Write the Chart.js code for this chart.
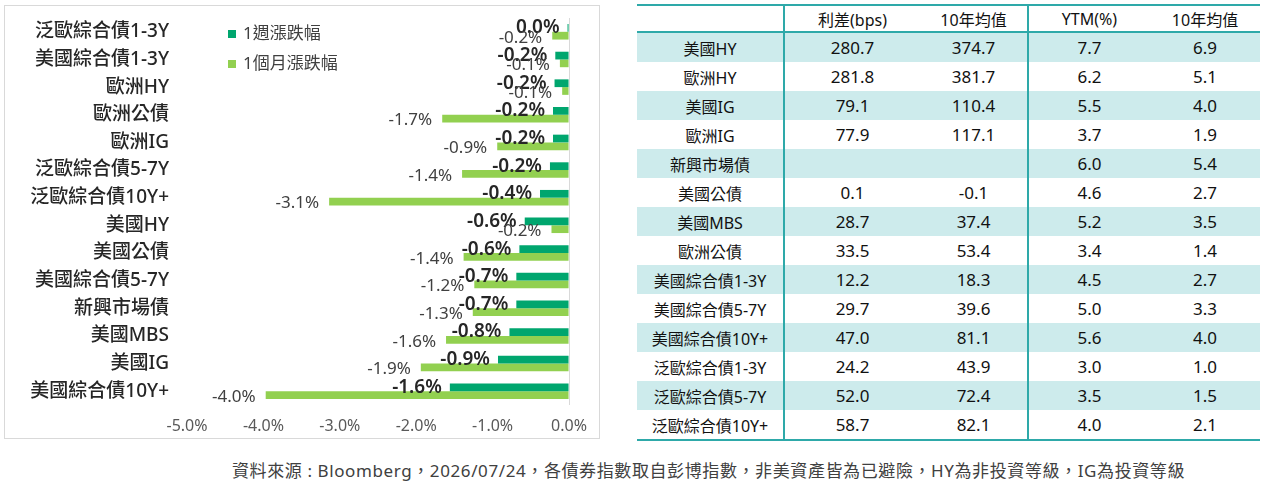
<!DOCTYPE html>
<html>
<head>
<meta charset="utf-8">
<script src="https://cdn.jsdelivr.net/npm/chart.js@4.4.1/dist/chart.umd.min.js"></script>
<style>
  body { margin: 0; width: 1264px; height: 484px; background: #fff; position: relative; overflow: hidden;
         font-family: "Noto Sans", "Noto Sans CJK TC", sans-serif; color: #111; }
  #box { position: absolute; left: 4px; top: 5px; width: 594px; height: 432px; border: 1px solid #d9d9d9; }
  #tbl { position: absolute; left: 637px; top: 4px; width: 623px; border-collapse: collapse; table-layout: fixed; }
  #tbl th, #tbl td { padding: 0; text-align: center; white-space: nowrap; }
  #tbl th { height: 25px; font-size: 16px; font-weight: normal; border-top: 2px solid #2ea9a9; border-bottom: 2px solid #2ea9a9; }
  #tbl td { height: 29px; font-size: 17px; }
  #tbl td.nm { font-size: 16px; }
  #tbl tr.alt td { background: #cdebec; }
  #tbl tr:last-child td { border-bottom: 2px solid #2ea9a9; }
  #tbl .vl { border-right: 2px solid #2ea9a9; }
  #note { position: absolute; left: 232px; top: 457px; font-size: 17px; letter-spacing: 0.6px; color: #404040; white-space: nowrap; }
</style>
</head>
<body>
<div id="box"><canvas id="bondChart"></canvas></div>
<table id="tbl">
  <colgroup><col style="width:147px"><col style="width:136px"><col style="width:108px"><col style="width:122px"><col style="width:110px"></colgroup>
  <thead><tr><th class="vl"></th><th>利差(bps)</th><th class="vl">10年均值</th><th>YTM(%)</th><th>10年均值</th></tr></thead>
  <tbody id="tblBody"></tbody>
</table>
<div id="note">資料來源 : Bloomberg，2026/07/24，各債券指數取自彭博指數，非美資產皆為已避險，HY為非投資等級，IG為投資等級</div>

<script>
// ---------- chart data ----------
const categories = ["泛歐綜合債1-3Y", "美國綜合債1-3Y", "歐洲HY", "歐洲公債", "歐洲IG", "泛歐綜合債5-7Y", "泛歐綜合債10Y+",
  "美國HY", "美國公債", "美國綜合債5-7Y", "新興市場債", "美國MBS", "美國IG", "美國綜合債10Y+"];
const weekChange = [-0.02, -0.18, -0.19, -0.21, -0.21, -0.25, -0.38, -0.58, -0.65, -0.69, -0.69, -0.78, -0.93, -1.56];
const monthChange = [-0.22, -0.12, -0.09, -1.66, -0.94, -1.40, -3.14, -0.23, -1.38, -1.24, -1.26, -1.61, -1.94, -3.97];
const xTicks = [-5, -4, -3, -2, -1, 0];

// ---------- table data ----------
const tableNames = ["美國HY", "歐洲HY", "美國IG", "歐洲IG", "新興市場債", "美國公債", "美國MBS", "歐洲公債",
  "美國綜合債1-3Y", "美國綜合債5-7Y", "美國綜合債10Y+", "泛歐綜合債1-3Y", "泛歐綜合債5-7Y", "泛歐綜合債10Y+"];
const spread = [280.7, 281.8, 79.1, 77.9, null, 0.1, 28.7, 33.5, 12.2, 29.7, 47.0, 24.2, 52.0, 58.7];
const spreadAvg = [374.7, 381.7, 110.4, 117.1, null, -0.1, 37.4, 53.4, 18.3, 39.6, 81.1, 43.9, 72.4, 82.1];
const ytm = [7.7, 6.2, 5.5, 3.7, 6.0, 4.6, 5.2, 3.4, 4.5, 5.0, 5.6, 3.0, 3.5, 4.0];
const ytmAvg = [6.9, 5.1, 4.0, 1.9, 5.4, 2.7, 3.5, 1.4, 2.7, 3.3, 4.0, 1.0, 1.5, 2.1];

const FONT = '"Noto Sans", "Noto Sans CJK TC", sans-serif';
const pct = (v) => (Math.round(v * 10) / 10).toFixed(1) + "%";
const num = (v) => (v === null ? "" : v.toFixed(1));

// build table rows
document.getElementById("tblBody").innerHTML = tableNames.map((name, i) => `
  <tr class="${i % 2 === 0 ? "alt" : ""}">
    <td class="nm vl">${name}</td><td>${num(spread[i])}</td><td class="vl">${num(spreadAvg[i])}</td>
    <td>${num(ytm[i])}</td><td>${num(ytmAvg[i])}</td>
  </tr>`).join("");

// value labels at the end of each bar
const barLabels = {
  id: "barLabels",
  afterDatasetsDraw(chart) {
    const ctx = chart.ctx;
    ctx.save();
    ctx.textAlign = "right";
    ctx.textBaseline = "middle";
    chart.data.datasets.forEach((ds, di) => {
      const meta = chart.getDatasetMeta(di);
      ctx.font = di === 0 ? `600 19px ${FONT}` : `17px ${FONT}`;
      ctx.fillStyle = di === 0 ? "#262626" : "#404040";
      meta.data.forEach((bar, i) => {
        ctx.fillText(pct(ds.data[i]), bar.x - (di === 0 ? 8 : 10), bar.y + (di === 0 ? 0 : 2));
      });
    });
    ctx.restore();
  },
};

// legend stacked inside the plot
const innerLegend = {
  id: "innerLegend",
  afterDraw(chart) {
    const ctx = chart.ctx;
    ctx.save();
    ctx.font = `17px ${FONT}`;
    ctx.textBaseline = "middle";
    chart.data.datasets.forEach((ds, di) => {
      const y = 28 + di * 30;
      ctx.fillStyle = ds.backgroundColor;
      ctx.fillRect(223, y - 4, 8, 8);
      ctx.fillStyle = "#404040";
      ctx.fillText(ds.label, 238, y);
    });
    ctx.restore();
  },
};

new Chart(document.getElementById("bondChart"), {
  type: "bar",
  data: {
    labels: categories,
    datasets: [
      { label: "1週漲跌幅", data: weekChange, backgroundColor: "#00a66e" },
      { label: "1個月漲跌幅", data: monthChange, backgroundColor: "#92d050" },
    ],
  },
  options: {
    indexAxis: "y",
    responsive: true,
    maintainAspectRatio: false,
    animation: false,
    categoryPercentage: 0.56,
    barPercentage: 1,
    layout: { padding: { top: 12, right: 29, left: 0, bottom: 0 } },
    plugins: { legend: { display: false }, tooltip: { enabled: false } },
    scales: {
      x: {
        min: -5,
        max: 0,
        afterBuildTicks: (scale) => { scale.ticks = xTicks.map((v) => ({ value: v })); },
        afterFit: (scale) => { scale.height = 33; },
        grid: { drawTicks: false, color: (c) => (c.tick && c.tick.value === 0 ? "#d9d9d9" : "rgba(0,0,0,0)") },
        border: { display: false },
        ticks: { padding: 12, color: "#595959", font: { size: 16, family: FONT }, callback: (v) => v.toFixed(1) + "%" },
      },
      y: {
        afterFit: (scale) => { scale.width = 182; scale.paddingTop = 0; scale.paddingBottom = 0; },
        grid: { display: false },
        border: { display: false },
        ticks: { padding: 10, color: "#262626", font: { size: 19, weight: 500, family: FONT } },
      },
    },
  },
  plugins: [barLabels, innerLegend],
});
</script>
</body>
</html>
